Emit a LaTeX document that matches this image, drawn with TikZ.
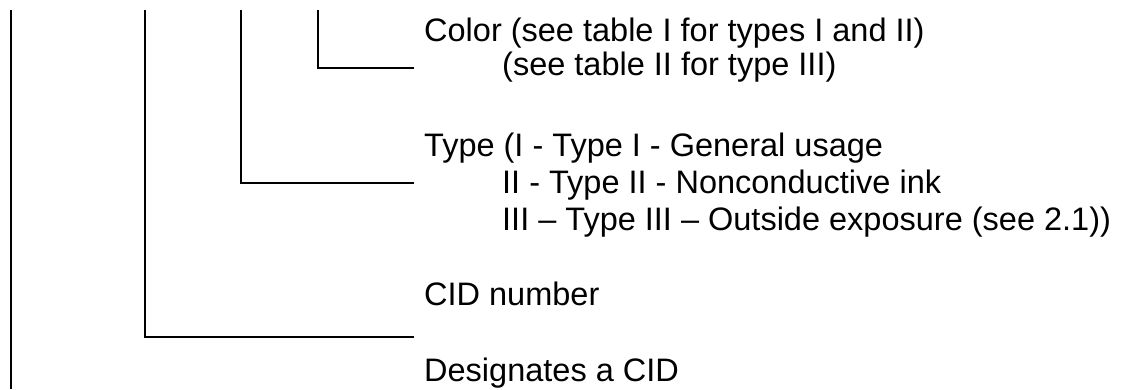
\documentclass[tikz,border=0pt]{standalone}
\usepackage{fontspec}
\setmainfont{Liberation Sans}
\begin{document}
\begin{tikzpicture}[x=1pt,y=-1pt,
  conn/.style={line width=1.3pt, line cap=butt, line join=miter},
  lbl/.style={anchor=base west, inner sep=0pt, font=\fontsize{32.5}{37}\selectfont}]
\useasboundingbox (0,0) rectangle (1122,389);
% text
\node[lbl] (color)  at (424,41)  {Color (see table I for types I and II)};
\node[lbl] (color2) at (502,75)  {(see table II for type III)};
\node[lbl] (type)   at (424,156) {Type (I - Type I - General usage};
\node[lbl] (type2)  at (502,193) {II - Type II - Nonconductive ink};
\node[lbl] (type3)  at (502,230) {III – Type III – Outside exposure (see 2.1))};
\node[lbl] (cid)    at (424,305) {CID number};
\node[lbl] (des)    at (424,381) {Designates a CID};
% connectors
\coordinate (t1) at (11,10);  \coordinate (b1) at (11,389);
\coordinate (t2) at (145,10); \coordinate (c2) at (145,337); \coordinate (e2) at (414,337);
\coordinate (t3) at (241,10); \coordinate (c3) at (241,183); \coordinate (e3) at (414,183);
\coordinate (t4) at (318,10); \coordinate (c4) at (318,68);  \coordinate (e4) at (414,68);
\draw[conn] (t1) -- (b1);
\draw[conn] (t2) -- (c2) -- (e2);
\draw[conn] (t3) -- (c3) -- (e3);
\draw[conn] (t4) -- (c4) -- (e4);
\end{tikzpicture}
\end{document}
